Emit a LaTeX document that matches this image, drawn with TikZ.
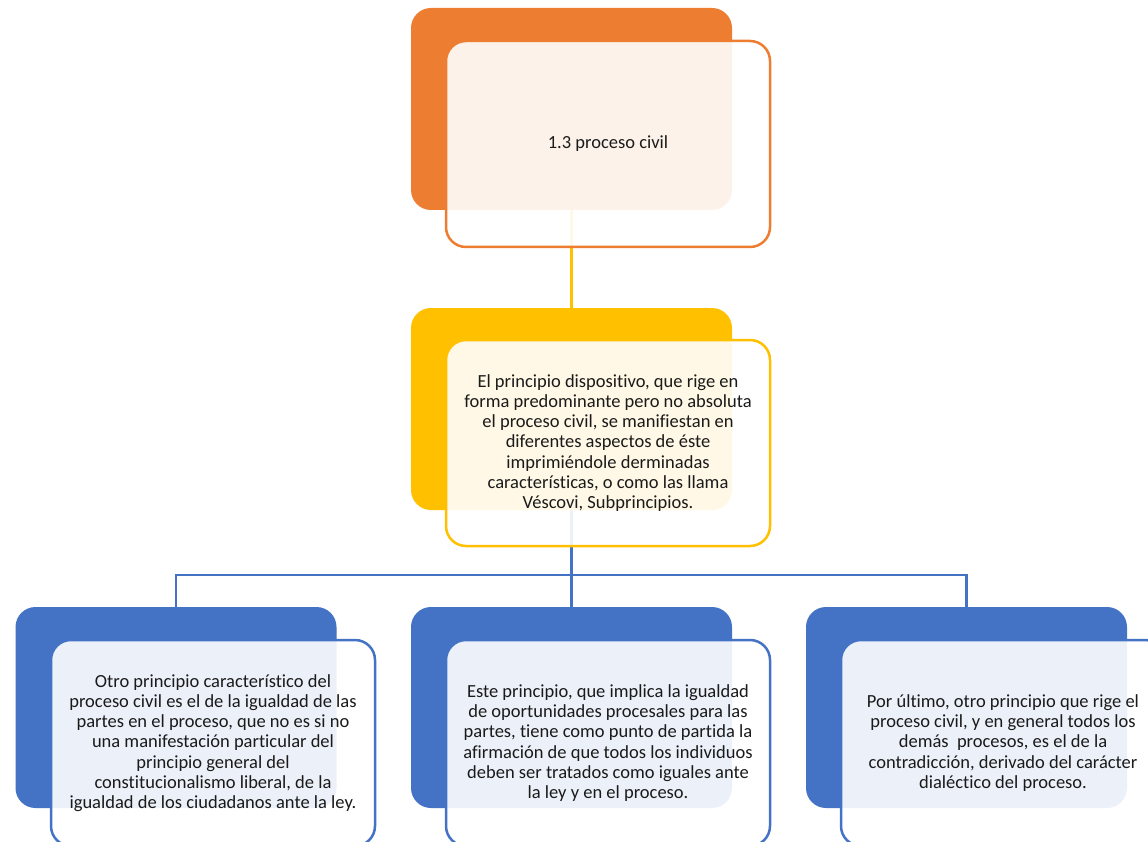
\documentclass[tikz,border=0pt]{standalone}
\usepackage{fontspec}
\setmainfont{Carlito}[Ligatures=CommonOff]
\usetikzlibrary{calc}
\definecolor{orA}{HTML}{ED7D31}
\definecolor{yeA}{HTML}{FFC000}
\definecolor{blA}{HTML}{4472C4}
\definecolor{txA}{HTML}{1A1A1A}
\tikzset{
 backbox/.style={rectangle, rounded corners=20pt, minimum width=321pt, minimum height=202pt, inner sep=0pt, fill=#1, draw=none},
 frontbox/.style={rectangle, rounded corners=20pt, minimum width=324pt, minimum height=206pt, inner sep=0pt, draw=#1, line width=2.5pt, fill=white, fill opacity=0.9, draw opacity=1, text opacity=1, text=txA, align=center, font=\fontsize{18.5}{20.2}\selectfont},
 conn/.style={draw=#1, line width=2.5pt},
}
\begin{document}
\begin{tikzpicture}[x=1pt,y=-1pt]
\useasboundingbox (0,0) rectangle (1148,842);
\clip (0,0) rectangle (1148,842);
\fill[white] (0,0) rectangle (1148,842);
% back boxes
\node[backbox=orA] (b1) at (571.5,109) {};
\node[backbox=yeA] (b2) at (571.5,409) {};
\node[backbox=blA, minimum height=201pt] (b3) at (176,707.5) {};
\node[backbox=blA, minimum height=201pt] (b4) at (571.5,707.5) {};
\node[backbox=blA, minimum height=201pt] (b5) at (966.5,707.5) {};
% connectors
\draw[conn=yeA] (b1.south) -- (b2.north);
\coordinate (j) at ($(b2.south)+(0,65)$);
\draw[conn=blA] (b2.south) -- (j);
\draw[conn=blA] (j) -| (b3.north);
\draw[conn=blA] (j) -- (b4.north);
\draw[conn=blA] (j) -| (b5.north);
% front boxes
\node[frontbox=orA] (f1) at (608,144) {1.3 proceso civil};
\node[frontbox=yeA] (f2) at (608,443) {El principio dispositivo, que rige en\\
forma predominante pero no absoluta\\
el proceso civil, se manifiestan en\\
diferentes aspectos de éste\\
imprimiéndole derminadas\\
características, o como las llama\\
Véscovi, Subprincipios.};
\node[frontbox=blA] (f3) at (213,743) {Otro principio característico del\\
proceso civil es el de la igualdad de las\\
partes en el proceso, que no es si no\\
una manifestación particular del\\
principio general del\\
constitucionalismo liberal, de la\\
igualdad de los ciudadanos ante la ley.};
\node[frontbox=blA] (f4) at (608,743) {Este principio, que implica la igualdad\\
de oportunidades procesales para las\\
partes, tiene como punto de partida la\\
afirmación de que todos los individuos\\
deben ser tratados como iguales ante\\
la ley y en el proceso.};
\node[frontbox=blA] (f5) at (1003,743) {Por último, otro principio que rige el\\
proceso civil, y en general todos los\\
demás\ \ procesos, es el de la\\
contradicción, derivado del carácter\\
dialéctico del proceso.};
\end{tikzpicture}
\end{document}
